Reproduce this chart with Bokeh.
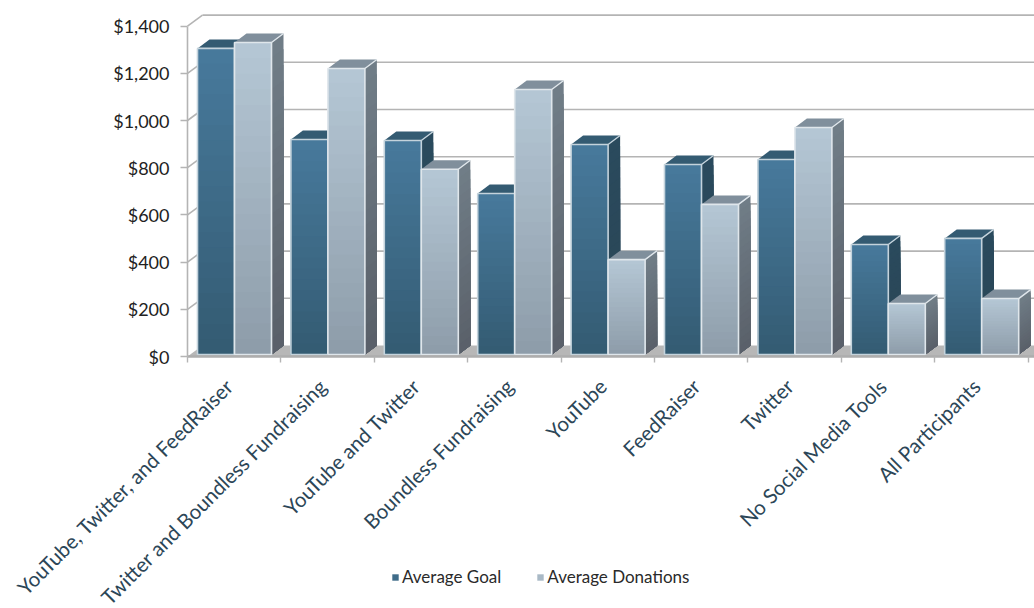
from bokeh.plotting import figure
from bokeh.models import ColumnDataSource, FixedTicker, NumeralTickFormatter, Legend, LegendItem, Range1d
from bokeh.embed import file_html
from bokeh.resources import INLINE

categories = ["YouTube, Twitter, and FeedRaiser", "Twitter and Boundless Fundraising", "YouTube and Twitter",
              "Boundless Fundraising", "YouTube", "FeedRaiser", "Twitter", "No Social Media Tools", "All Participants"]
goal = [1297, 911, 907, 682, 890, 805, 826, 466, 492]
donations = [1322, 1212, 785, 1123, 402, 636, 962, 216, 237]
y_ticks = [0, 200, 400, 600, 800, 1000, 1200, 1400]
series_names = ["Average Goal", "Average Donations"]

PX_X = 93.4          # px per category
PX_Y = 0.236         # px per dollar
W, H = 1034, 608
ORIGIN_X, ORIGIN_Y = 187, 356   # canvas position of the chart origin
x_end = (W - ORIGIN_X) / PX_X

FONT = "Lato"
GRID = "#b4b4b4"
EDGE_DARK = "#c4d3dc"
EDGE_LIGHT = "#dfe6eb"

p = figure(width=W, height=H, output_backend="svg", toolbar_location=None,
           x_range=Range1d(-ORIGIN_X / PX_X, x_end),
           y_range=Range1d(-(H - ORIGIN_Y) / PX_Y, ORIGIN_Y / PX_Y),
           min_border_left=0, min_border_right=0, min_border_top=0, min_border_bottom=0)
p.grid.visible = False
p.outline_line_color = None
p.background_fill_color = "white"

# wall / floor depth
wall_dx, wall_dy = 15 / PX_X, 11 / PX_Y
# bar depth and placement
bar_dx, bar_dy = 12 / PX_X, 9 / PX_Y
bar_inset, bar_w, bar_y0 = 10 / PX_X, 37 / PX_X, 2 / PX_Y

# floor
p.patch([0, x_end, x_end, wall_dx], [0, 0, wall_dy, wall_dy], fill_color="#b7b7b7", line_color=None)

# back-wall gridlines and their diagonal stubs
p.segment([wall_dx] * len(y_ticks[1:]), [t + wall_dy for t in y_ticks[1:]],
          [x_end] * len(y_ticks[1:]), [t + wall_dy for t in y_ticks[1:]], line_color=GRID, line_width=1.6)
p.segment([0] * len(y_ticks[1:]), y_ticks[1:], [wall_dx] * len(y_ticks[1:]), [t + wall_dy for t in y_ticks[1:]],
          line_color=GRID, line_width=1.6)


def hex2rgb(h):
    return [int(h[i:i + 2], 16) for i in (1, 3, 5)]


def mix(a, b, t):
    ca, cb = hex2rgb(a), hex2rgb(b)
    return "#%02x%02x%02x" % tuple(round(u + (v - u) * t) for u, v in zip(ca, cb))


xs, ys, fills, fa, lines, la, lw = [], [], [], [], [], [], []


def add(x, y, fill=None, line=None, width=1.0):
    xs.append(x); ys.append(y)
    fills.append(fill or "#000000"); fa.append(1.0 if fill else 0.0)
    lines.append(line or "#000000"); la.append(1.0 if line else 0.0)
    lw.append(width)


STEPS = 20


def bar(x0, v, front, side, topc, edge):
    x1 = x0 + bar_w
    y0, y1 = bar_y0, bar_y0 + v
    for k in range(STEPS):
        t = k / STEPS
        yk = y1 - (y1 - y0) * t
        add([x1, x1 + bar_dx, x1 + bar_dx, x1], [y0, y0 + bar_dy, yk + bar_dy, yk], fill=mix(side[0], side[1], t))
    add([x0, x1, x1 + bar_dx, x0 + bar_dx], [y1, y1, y1 + bar_dy, y1 + bar_dy], fill=topc)
    for k in range(STEPS):
        t = k / STEPS
        yk = y1 - (y1 - y0) * t
        add([x0, x1, x1, x0], [y0, y0, yk, yk], fill=mix(front[0], front[1], t))
    add([x1, x1 + bar_dx], [y1, y1 + bar_dy], line=edge, width=1.4)
    add([x0, x1, x1, x0], [y0, y0, y1, y1], line=edge, width=1.6)


for i in range(len(categories)):
    x0 = i + bar_inset
    bar(x0, goal[i], ("#47799b", "#335a71"), ("#2a4a5d", "#294555"), "#345b72", EDGE_DARK)
    bar(x0 + bar_w, donations[i], ("#b4c6d4", "#8c9ba8"), ("#707d87", "#595f68"), "#808f9c", EDGE_LIGHT)

src = ColumnDataSource(dict(xs=xs, ys=ys, fills=fills, fa=fa, lines=lines, la=la, lw=lw))
p.patches("xs", "ys", source=src, fill_color="fills", fill_alpha="fa", line_color="lines", line_alpha="la", line_width="lw")

# axes: pinned to the origin, the frame covers the whole canvas
ya = p.yaxis[0]
ya.fixed_location = 0
ya.ticker = FixedTicker(ticks=y_ticks)
ya.formatter = NumeralTickFormatter(format="$0,0")
ya.bounds = (0, 1400)
ya.axis_line_color = GRID
ya.axis_line_width = 1.6
ya.major_tick_line_color = GRID
ya.major_tick_line_width = 1.6
ya.major_tick_out = 7
ya.major_tick_in = 0
ya.minor_tick_line_color = None
ya.major_label_standoff = 11
ya.major_label_text_font = FONT
ya.major_label_text_font_size = "18px"
ya.major_label_text_color = "#222222"

label_shift = 5 / PX_X
centers = [i + 0.5 - label_shift for i in range(len(categories))]
bounds = list(range(len(categories) + 1))
xa = p.xaxis[0]
xa.fixed_location = 0
xa.bounds = (0, x_end)
xa.ticker = FixedTicker(ticks=centers, minor_ticks=bounds)
xa.major_label_overrides = {c: n for c, n in zip(centers, categories)}
xa.major_label_orientation = 0.785398
xa.major_label_text_font = FONT
xa.major_label_text_font_size = "20.5px"
xa.major_label_text_color = "#2c4657"
xa.major_label_standoff = 20
xa.major_tick_line_color = None
xa.major_tick_out = 0
xa.major_tick_in = 0
xa.minor_tick_line_color = GRID
xa.minor_tick_line_width = 1.4
xa.minor_tick_out = 6
xa.minor_tick_in = 0
xa.axis_line_color = "#adadad"
xa.axis_line_width = 2.5

# legend
r1 = p.quad(left=[0], right=[0], top=[0], bottom=[0], fill_color="#3f6c89", line_color=None)
r2 = p.quad(left=[0], right=[0], top=[0], bottom=[0], fill_color="#a9b9c6", line_color=None)
legend = Legend(items=[LegendItem(label=series_names[0], renderers=[r1]),
                       LegendItem(label=series_names[1], renderers=[r2])],
                orientation="horizontal", location=(391, H - 587),
                glyph_width=8, glyph_height=8, spacing=35, label_standoff=3, padding=0, margin=0,
                background_fill_alpha=0, border_line_color=None,
                label_text_font=FONT, label_text_font_size="17px", label_text_color="#2a2a2a")
p.add_layout(legend, "center")

open("out.html", "w").write(file_html(p, INLINE))
